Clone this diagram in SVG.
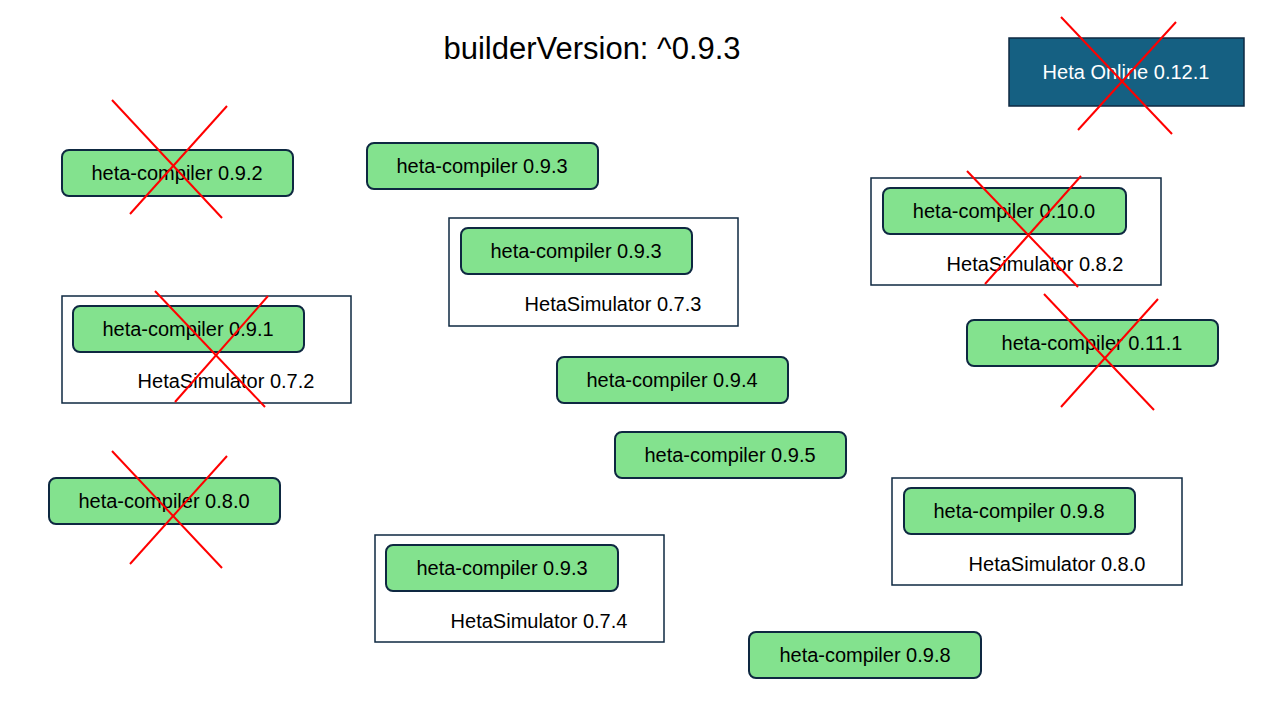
<svg xmlns="http://www.w3.org/2000/svg" width="1280" height="720" viewBox="0 0 1280 720">
<style>
text{font-family:"Liberation Sans",Arial,sans-serif;font-size:20px;fill:#000}
.b{fill:#83e28e;stroke:#0e2841;stroke-width:2}
.f{fill:none;stroke:#0e2841;stroke-width:1.5}
.x{stroke:#ff0000;stroke-width:2}
.c{text-anchor:middle}
</style>
<rect width="1280" height="720" fill="#fff"/>
<text x="592" y="59" class="c" style="font-size:31px">builderVersion: ^0.9.3</text>
<g id="online"><rect x="1009" y="38" width="235" height="68" fill="#156082" stroke="#0e2841" stroke-width="1.5"/><text x="1126" y="79" class="c" style="fill:#fff">Heta Online 0.12.1</text></g>
<g id="n1"><rect class="b" x="62" y="150" width="231" height="46" rx="7"/><text x="177" y="180" class="c">heta-compiler 0.9.2</text></g>
<g id="n2"><rect class="b" x="367" y="143" width="231" height="46" rx="7"/><text x="482" y="173" class="c">heta-compiler 0.9.3</text></g>
<g id="g3"><rect class="f" x="449" y="218" width="289" height="108"/><rect class="b" x="461" y="228" width="231" height="46" rx="7"/><text x="576" y="258" class="c">heta-compiler 0.9.3</text><text x="613" y="311" class="c">HetaSimulator 0.7.3</text></g>
<g id="g4"><rect class="f" x="871" y="178" width="290" height="107"/><rect class="b" x="883" y="188" width="243" height="46" rx="7"/><text x="1004" y="218" class="c">heta-compiler 0.10.0</text><text x="1035" y="271" class="c">HetaSimulator 0.8.2</text></g>
<g id="g5"><rect class="f" x="62" y="296" width="289" height="107"/><rect class="b" x="73" y="306" width="231" height="46" rx="7"/><text x="188" y="336" class="c">heta-compiler 0.9.1</text><text x="226" y="388" class="c">HetaSimulator 0.7.2</text></g>
<g id="n6"><rect class="b" x="967" y="320" width="251" height="46" rx="7"/><text x="1092" y="350" class="c">heta-compiler 0.11.1</text></g>
<g id="n7"><rect class="b" x="557" y="357" width="231" height="46" rx="7"/><text x="672" y="387" class="c">heta-compiler 0.9.4</text></g>
<g id="n8"><rect class="b" x="615" y="432" width="231" height="46" rx="7"/><text x="730" y="462" class="c">heta-compiler 0.9.5</text></g>
<g id="n9"><rect class="b" x="49" y="478" width="231" height="46" rx="7"/><text x="164" y="508" class="c">heta-compiler 0.8.0</text></g>
<g id="g10"><rect class="f" x="892" y="478" width="290" height="107"/><rect class="b" x="904" y="488" width="231" height="46" rx="7"/><text x="1019" y="518" class="c">heta-compiler 0.9.8</text><text x="1057" y="571" class="c">HetaSimulator 0.8.0</text></g>
<g id="g11"><rect class="f" x="375" y="535" width="289" height="107"/><rect class="b" x="386" y="545" width="232" height="46" rx="7"/><text x="502" y="575" class="c">heta-compiler 0.9.3</text><text x="539" y="628" class="c">HetaSimulator 0.7.4</text></g>
<g id="n12"><rect class="b" x="749" y="632" width="232" height="46" rx="7"/><text x="865" y="662" class="c">heta-compiler 0.9.8</text></g>
<g id="crosses">
<line class="x" x1="112" y1="100" x2="222" y2="218"/><line class="x" x1="227" y1="106" x2="130" y2="214"/>
<line class="x" x1="967" y1="171" x2="1078" y2="287"/><line class="x" x1="1081" y1="176" x2="985" y2="284"/>
<line class="x" x1="155" y1="291" x2="265" y2="407"/><line class="x" x1="268" y1="296" x2="175" y2="402"/>
<line class="x" x1="1044" y1="294" x2="1154" y2="410"/><line class="x" x1="1158" y1="299" x2="1061" y2="407"/>
<line class="x" x1="112" y1="451" x2="222" y2="568"/><line class="x" x1="227" y1="456" x2="130" y2="564"/>
<line class="x" x1="1061" y1="17" x2="1172" y2="134"/><line class="x" x1="1176" y1="22" x2="1078" y2="130"/>
</g>
</svg>
